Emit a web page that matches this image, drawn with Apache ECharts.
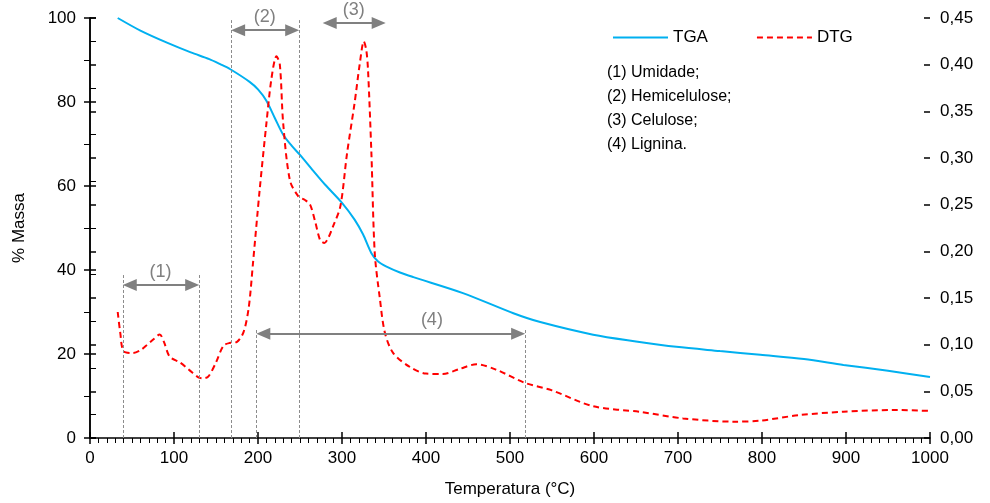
<!DOCTYPE html>
<html><head><meta charset="utf-8">
<script src="https://cdn.jsdelivr.net/npm/echarts@6/dist/echarts.min.js"></script>
<style>html,body{margin:0;padding:0;background:#fff}#c{width:990px;height:503px}</style>
</head><body><div id="c"></div>
<script>
// TGA (% massa) vs temperature (°C)
var tgaTemp = [33,60,93,120,142,155,167,190,200,210,220,230,240,250,265,280,300,315,325,335,343,353,369,385,444,504,536,599,650,698,750,798,850,897,950,1000];
var tgaMass = [100,97,94,91.8,90.2,89,87.8,84.8,83,80.3,76.2,72.2,69.6,67.4,63.8,60.3,56,52,48.5,44,42,40.8,39.4,38.3,34.5,29.7,27.6,24.6,23,21.7,20.7,19.8,18.8,17.4,16,14.5];
// DTG vs temperature (°C)
var dtgTemp = [33,36,40,51,60,67,76,83,88,95,107,118,129,135,141,150,159,167,175,183,189,194,202,210,216,222,226,230,238,248,256,262,268,274,279,284,289,298,306,315,321,326,329,331,335,339,345,351,361,381,400,420,440,460,484,518,550,599,655,706,766,798,845,897,956,1000];
var dtgVal = [0.135,0.113,0.093,0.091,0.094,0.099,0.106,0.111,0.103,0.087,0.081,0.073,0.065,0.064,0.066,0.081,0.099,0.102,0.103,0.114,0.14,0.187,0.266,0.337,0.385,0.409,0.40,0.337,0.276,0.259,0.255,0.250,0.232,0.212,0.209,0.215,0.226,0.248,0.305,0.359,0.40,0.425,0.415,0.394,0.305,0.198,0.15,0.113,0.091,0.076,0.069,0.0686,0.074,0.079,0.073,0.059,0.051,0.034,0.028,0.021,0.0175,0.0186,0.0246,0.0282,0.030,0.029];
// annotation ranges (°C)
var rangeLabels = ['(1)','(2)','(3)','(4)'];
var rangeStart = [39,168,277,198];
var rangeEnd   = [130,249,352,518];
var arrowLevel = [36.4,97.1,98.8,24.8];   // % massa
var lineTop    = [38.8,99.5,101.5,26];    // % massa
var labelX     = [84,208,314,407];        // °C
var labelY     = [39.6,100.3,102,28.1];   // % massa
var noteLines = ['(1) Umidade;','(2) Hemicelulose;','(3) Celulose;','(4) Lignina.'];

function zip(a,b){return a.map(function(v,i){return [v,b[i]];});}

var ARROW_INSET = 7/0.84; // half arrowhead length (px) in °C
var vLines = [], arrows = [];
for (var i=0;i<rangeLabels.length;i++){
  [rangeStart[i],rangeEnd[i]].forEach(function(x){
    vLines.push([{coord:[x,0]},{coord:[x,lineTop[i]]}]);
  });
  arrows.push([{coord:[rangeStart[i]+ARROW_INSET,arrowLevel[i]]},{coord:[rangeEnd[i]-ARROW_INSET,arrowLevel[i]]}]);
}

var FONT = 'Liberation Sans, Arial, sans-serif';
var chart = echarts.init(document.getElementById('c'));
var axisBase = {
  axisLine:{show:true,lineStyle:{color:'#000',width:1.5}},
  splitLine:{show:false}
};
chart.setOption({
  animation:false,
  textStyle:{fontFamily:FONT},
  grid:{left:90,right:60,top:18,bottom:65,containLabel:false},
  legend:{data:['TGA','DTG'],left:607,top:24,itemWidth:55,itemHeight:14,itemGap:48,
    itemStyle:{opacity:0},
    textStyle:{fontSize:17,color:'#000',fontFamily:FONT}},
  xAxis:[
    Object.assign({type:'value',min:0,max:1000,interval:100,position:'bottom',
      name:'Temperatura (°C)',nameLocation:'middle',nameGap:43,nameTextStyle:{fontSize:17,color:'#000'},
      axisTick:{show:true,inside:false,length:6,lineStyle:{color:'#000',width:1.5}},
      minorTick:{show:true,splitNumber:10,length:5,lineStyle:{color:'#000',width:1}},
      axisLabel:{fontSize:17,color:'#000',margin:12,formatter:function(v){return String(v);}}},axisBase),
    {type:'value',min:0,max:1000,interval:100,position:'bottom',
      axisLine:{show:false},axisLabel:{show:false},splitLine:{show:false},
      axisTick:{show:true,inside:true,length:6,lineStyle:{color:'#000',width:1.5}}}
  ],
  yAxis:[
    Object.assign({type:'value',min:0,max:100,interval:20,position:'left',
      name:'% Massa',nameLocation:'middle',nameGap:62,nameRotate:90,nameTextStyle:{fontSize:17,color:'#000'},
      axisTick:{show:true,inside:false,length:6,lineStyle:{color:'#000',width:1.5}},
      minorTick:{show:true,splitNumber:2,length:6,lineStyle:{color:'#000',width:1}},
      axisLabel:{fontSize:17,color:'#000',margin:14}},axisBase),
    Object.assign({type:'value',min:0,max:0.45,interval:0.05,position:'right',
      axisTick:{show:true,inside:false,length:6,lineStyle:{color:'#000',width:1.5}},
      minorTick:{show:true,splitNumber:2,length:6,lineStyle:{color:'#000',width:1}},
      axisLabel:{fontSize:17,color:'#000',margin:10,formatter:function(v){return v.toFixed(2).replace('.',',');}}},axisBase),
    {type:'value',min:0,max:100,interval:20,position:'left',axisLine:{show:false},axisLabel:{show:false},splitLine:{show:false},
      axisTick:{show:true,inside:true,length:6,lineStyle:{color:'#000',width:1.5}}},
    {type:'value',min:0,max:0.45,interval:0.05,position:'right',axisLine:{show:false},axisLabel:{show:false},splitLine:{show:false},
      axisTick:{show:true,inside:true,length:6,lineStyle:{color:'#000',width:1.5}}}
  ],
  series:[
    {name:'annot',type:'line',xAxisIndex:0,yAxisIndex:0,data:[],silent:true,
      markLine:{silent:true,symbol:['none','none'],animation:false,
        lineStyle:{color:'#8c8c8c',type:[3,2],width:1},label:{show:false},data:vLines}},
    {name:'arrows',type:'line',xAxisIndex:0,yAxisIndex:0,data:[],silent:true,
      markLine:{silent:true,symbol:['triangle','triangle'],symbolSize:[12,14],animation:false,
        lineStyle:{color:'#808080',type:'solid',width:2},label:{show:false},data:arrows}},
    {name:'TGA',type:'line',xAxisIndex:0,yAxisIndex:0,data:zip(tgaTemp,tgaMass),showSymbol:false,symbol:'none',
      smooth:0.3,lineStyle:{color:'#00B0F0',width:2},itemStyle:{color:'#00B0F0'},z:3},
    {name:'DTG',type:'line',xAxisIndex:0,yAxisIndex:1,data:zip(dtgTemp,dtgVal),showSymbol:false,symbol:'none',
      smooth:0.3,lineStyle:{color:'#FF0000',width:2,type:[6,4]},itemStyle:{color:'#FF0000'},z:4}
  ],
  graphic:[{type:'text',left:607,top:61,silent:true,
    style:{text:noteLines.join('\n'),font:'16px '+FONT,lineHeight:24,fill:'#000'}}]
});
// range labels placed through the chart's own coordinate conversion
var labelGraphics = rangeLabels.map(function(t,i){
  var p = chart.convertToPixel({xAxisIndex:0,yAxisIndex:0},[labelX[i],labelY[i]]);
  return {type:'text',x:p[0],y:p[1],silent:true,
    style:{text:t,font:'18px '+FONT,fill:'#808080',align:'center',verticalAlign:'middle'}};
});
chart.setOption({graphic:[{type:'text',left:607,top:61,silent:true,
    style:{text:noteLines.join('\n'),font:'16px '+FONT,lineHeight:24,fill:'#000'}}].concat(labelGraphics)});
</script></body></html>
